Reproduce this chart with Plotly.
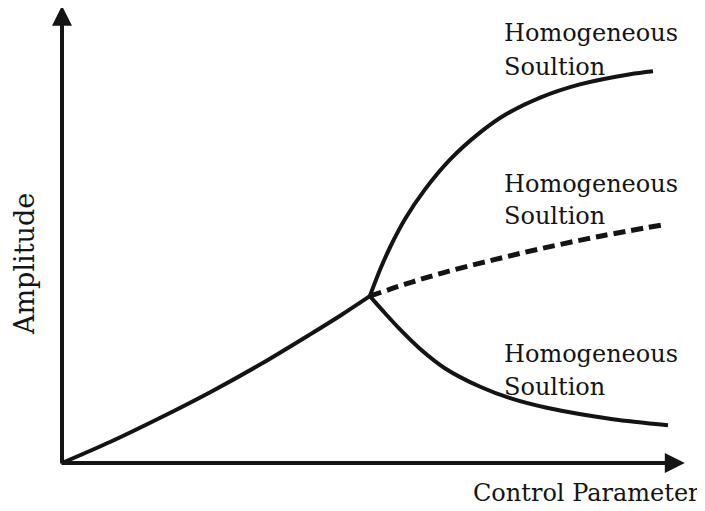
'''
    Schematic bifurcation diagram: amplitude against control parameter,
    with one branch splitting into three homogeneous solutions.
'''

import plotly.graph_objects as go

# base branch, before the bifurcation point
base_x = [0, 0.80, 1.63, 2.47, 3.30, 4.13, 4.63, 5.13]
base_y = [0, 0.35, 0.75, 1.18, 1.64, 2.14, 2.45, 2.78]

# upper stable branch
upper_x = [5.13, 5.30, 5.47, 5.72, 6.05, 6.47, 6.97, 7.38, 7.97, 8.63, 9.47, 9.85]
upper_y = [2.78, 3.22, 3.60, 4.07, 4.56, 5.06, 5.51, 5.80, 6.09, 6.31, 6.48, 6.53]

# middle (unstable, dashed) branch
middle_x = [5.13, 5.72, 6.35, 7.13, 7.97, 8.97, 10.02]
middle_y = [2.78, 2.98, 3.17, 3.37, 3.57, 3.78, 3.97]

# lower stable branch
lower_x = [5.13, 5.38, 5.63, 5.97, 6.38, 6.97, 7.47, 8.08, 9.18, 10.10]
lower_y = [2.78, 2.50, 2.23, 1.90, 1.58, 1.27, 1.08, 0.92, 0.73, 0.63]

branch_label = ['Homogeneous', 'Soultion']
x_title = 'Control Parameter'
y_title = 'Amplitude'

# axis ends (data units)
x_axis_end = 10.38
y_axis_end = 7.62

INK = '#141414'
SERIF = 'DejaVu Serif, Liberation Serif, serif'

# 60 px per data unit, origin at pixel (62, 463) of the page
PX = 60.0
# the page body keeps its default 8px margin
BODY = 8


def ux(px):
    return (px - 62) / PX


def uy(py):
    return (463 - py) / PX


fig = go.Figure()

solid = dict(color=INK, width=4, shape='spline', smoothing=0.8)

fig.add_trace(go.Scatter(x=base_x, y=base_y, mode='lines', line=solid))
fig.add_trace(go.Scatter(x=upper_x, y=upper_y, mode='lines', line=solid))
fig.add_trace(go.Scatter(x=lower_x, y=lower_y, mode='lines', line=solid))
fig.add_trace(go.Scatter(
    x=middle_x, y=middle_y, mode='lines',
    line=dict(color=INK, width=5, dash='12px,6px', shape='spline')
))

# axes as arrows
for (x, y, ax, ay) in [(x_axis_end, 0, -2 / PX, 0), (0, y_axis_end, 0, -2 / PX)]:
    fig.add_annotation(
        x=x, y=y, ax=ax, ay=ay,
        xref='x', yref='y', axref='x', ayref='y',
        text='', showarrow=True,
        arrowhead=2, arrowsize=1, arrowwidth=4, arrowcolor=INK,
        standoff=0,
    )

# branch labels, one line each (pixel centre of each text line)
label_rows = [33, 67, 184, 216, 354, 387]
for i, row in enumerate(label_rows):
    fig.add_annotation(
        x=ux(502), y=uy(row), xref='x', yref='y',
        text=branch_label[i % 2], showarrow=False,
        xanchor='left', yanchor='middle',
        font=dict(family=SERIF, size=24, color=INK),
    )

fig.add_annotation(
    x=ux(586), y=uy(493), xref='x', yref='y',
    text=x_title, showarrow=False,
    xanchor='center', yanchor='middle',
    font=dict(family=SERIF, size=24, color=INK),
)
fig.add_annotation(
    x=ux(24), y=uy(264), xref='x', yref='y',
    text=y_title, showarrow=False, textangle=-90,
    xanchor='center', yanchor='middle',
    font=dict(family=SERIF, size=27, color=INK),
)

fig.update_layout(
    width=705 - BODY, height=511 - BODY,
    margin=dict(l=0, r=0, t=0, b=0),
    paper_bgcolor='white', plot_bgcolor='white',
    showlegend=False,
    dragmode=False,
    xaxis=dict(range=[ux(BODY), ux(705)], visible=False, fixedrange=True),
    yaxis=dict(range=[uy(511), uy(BODY)], visible=False, fixedrange=True),
)

fig.write_html('out.html')
